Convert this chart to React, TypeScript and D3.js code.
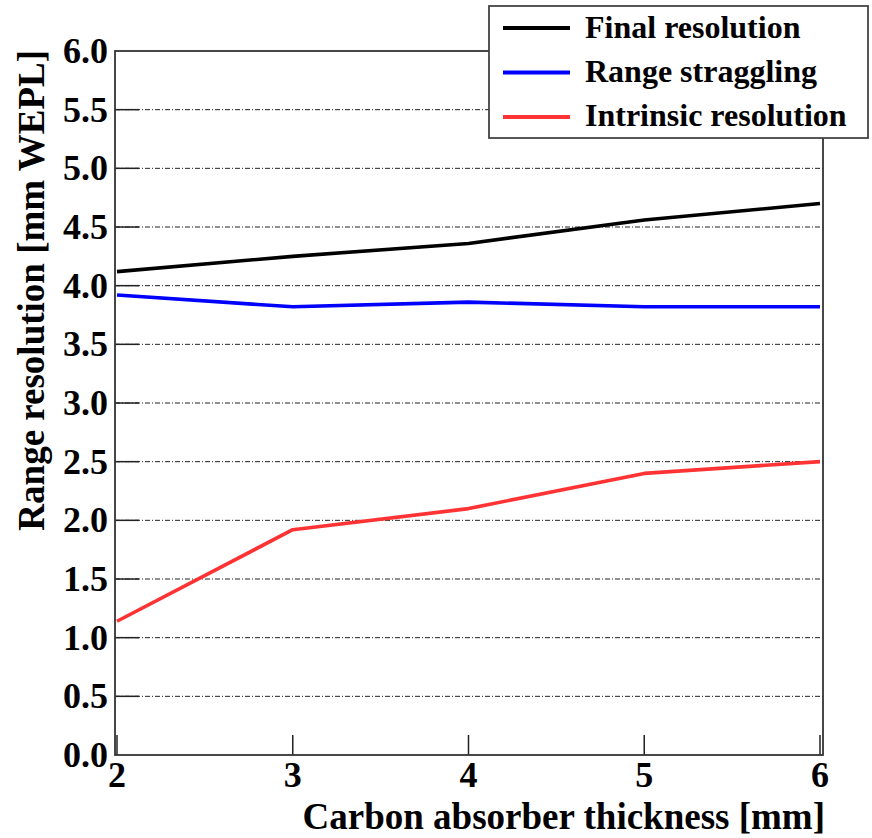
import React from "react";
import * as d3 from "d3";

const thickness = [2, 3, 4, 5, 6];
const finalRes = [4.12, 4.25, 4.36, 4.56, 4.7];
const straggling = [3.92, 3.82, 3.86, 3.82, 3.82];
const intrinsic = [1.14, 1.92, 2.1, 2.4, 2.5];
const yTicks = [0, 0.5, 1, 1.5, 2, 2.5, 3, 3.5, 4, 4.5, 5, 5.5, 6];
const xTicks = [2, 3, 4, 5, 6];
const seriesNames = ["Final resolution", "Range straggling", "Intrinsic resolution"];
const seriesColors = ["#000000", "#0000ff", "#ff3333"];

export default function App() {
  const W = 872, H = 838;
  const left = 115, right = 823, top = 51, bottom = 755;
  const x = d3.scaleLinear().domain([2, 6]).range([117, 820]);
  const y = d3.scaleLinear().domain([0, 6]).range([bottom, top]);
  const line = d3.line<[number, number]>().x(d => x(d[0])).y(d => y(d[1]));
  const series = [finalRes, straggling, intrinsic];
  const ts: React.CSSProperties = { fontFamily: "Liberation Serif, Times New Roman, DejaVu Serif, serif", fontWeight: 700 };
  return (
    <svg width={W} height={H} style={{ position: "absolute", left: 0, top: 0 }}>
      <rect x={0} y={0} width={W} height={H} fill="#fff" />
      {yTicks.filter(t => t > 0 && t < 6).map(t => (
        <line key={"g" + t} x1={left} x2={right} y1={y(t)} y2={y(t)} stroke="#222" strokeWidth={1} strokeDasharray="5,2,1,2" />
      ))}
      {yTicks.filter(t => t > 0 && t < 6).map(t => (
        <line key={"yt" + t} x1={left} x2={left + 24} y1={y(t)} y2={y(t)} stroke="#222" strokeWidth={1.5} />
      ))}
      {xTicks.map(t => (
        <line key={"xt" + t} x1={x(t)} x2={x(t)} y1={bottom} y2={bottom - 20} stroke="#222" strokeWidth={1.5} />
      ))}
      <rect x={left} y={top} width={right - left} height={bottom - top} fill="none" stroke="#333" strokeWidth={1.8} />
      {series.map((s, i) => (
        <path key={"s" + i} d={line(thickness.map((t, j) => [t, s[j]] as [number, number])) || ""} fill="none" stroke={seriesColors[i]} strokeWidth={3.6} strokeLinejoin="round" />
      ))}
      {yTicks.map(t => (
        <text key={"yl" + t} x={108} y={y(t) + 12} textAnchor="end" fontSize={36} style={ts}>{t.toFixed(1)}</text>
      ))}
      {xTicks.map(t => (
        <text key={"xl" + t} x={x(t)} y={787} textAnchor="middle" fontSize={36} style={ts}>{t}</text>
      ))}
      <text x={825} y={829} textAnchor="end" fontSize={37} style={ts}>Carbon absorber thickness [mm]</text>
      <text transform="translate(44,50) rotate(-90)" textAnchor="end" fontSize={37} style={ts}>Range resolution [mm WEPL]</text>
      <rect x={489} y={6} width={379} height={132} fill="#fff" stroke="#444" strokeWidth={1.8} />
      {seriesNames.map((n, i) => (
        <g key={"lg" + i}>
          <line x1={503} x2={570} y1={28 + i * 44.5} y2={28 + i * 44.5} stroke={seriesColors[i]} strokeWidth={4} />
          <text x={585} y={38 + i * 44} fontSize={32} style={ts}>{n}</text>
        </g>
      ))}
    </svg>
  );
}
